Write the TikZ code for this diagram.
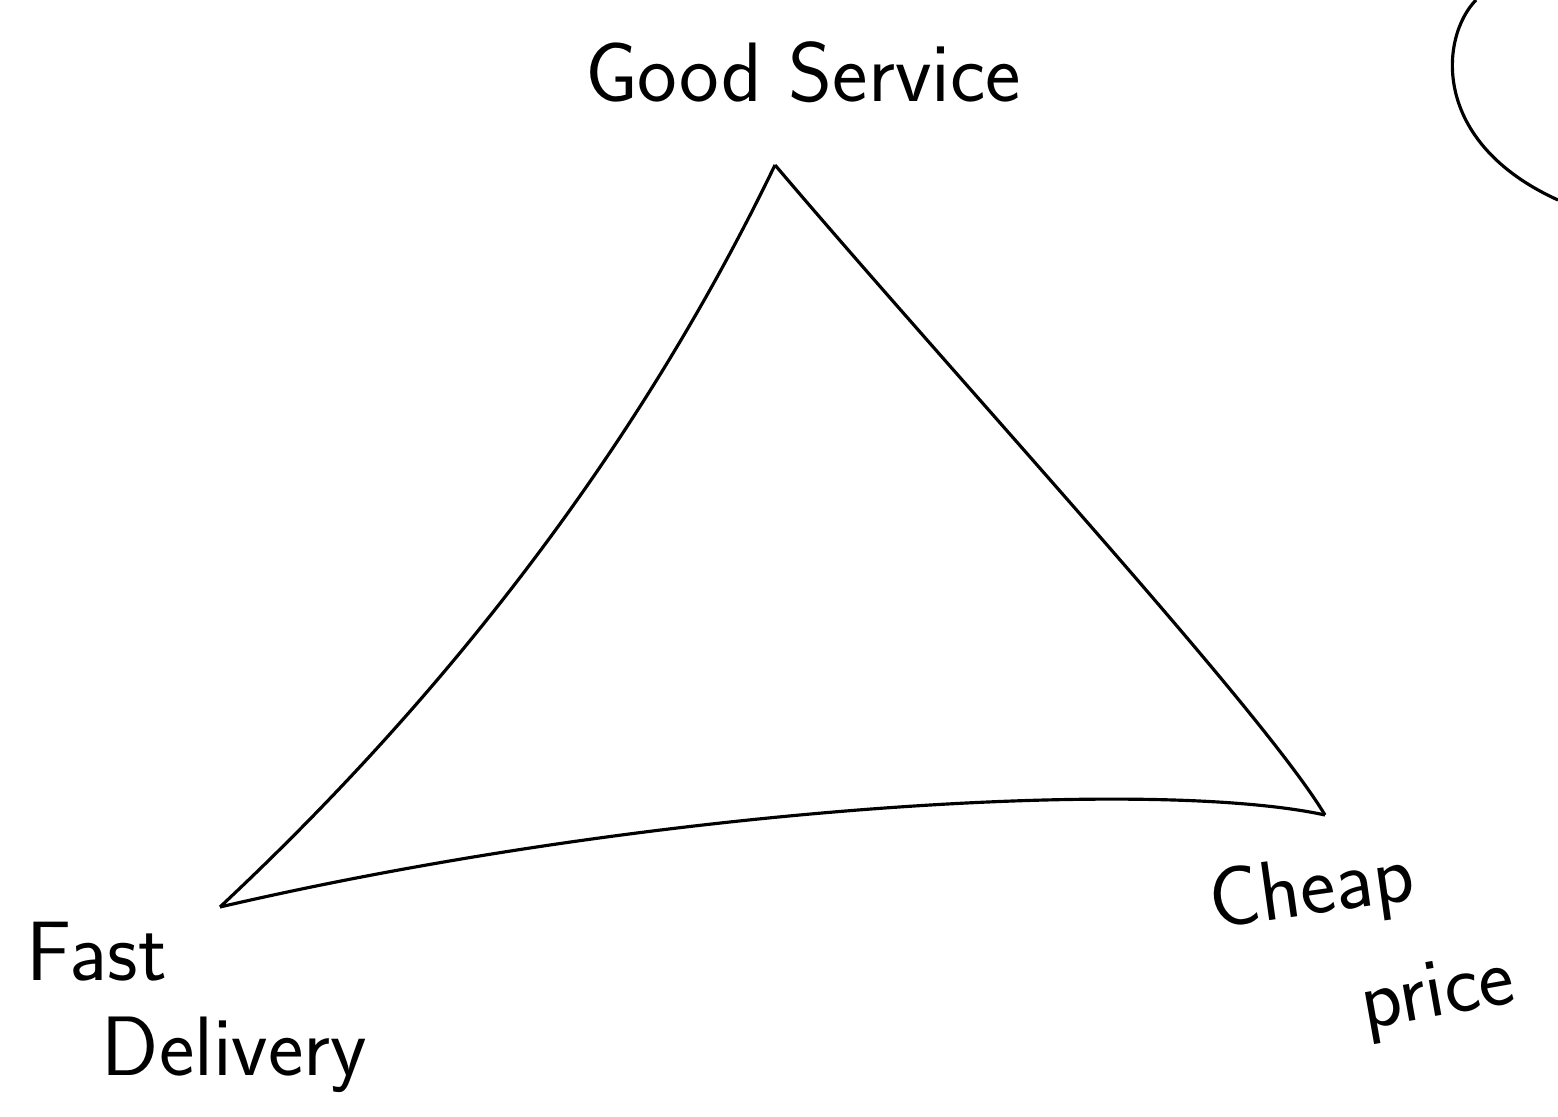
\documentclass[tikz,border=0pt]{standalone}
\usepackage{tikz}
\usepackage{xcolor}

\begin{document}
\begin{tikzpicture}[line width=0.9pt, every node/.style={font=\sffamily\fontsize{24}{27}\selectfont}]
		\useasboundingbox (0,0) rectangle (15.58,11.17);
		\coordinate (a) at (7.75,9.52);
		\coordinate (b) at (2.20,2.10);
		\coordinate (c) at (13.25,3.02);
		\node [align=center] (1) at (8.03,10.45) {Good Service};
		\node [align=left] (2) at (1.97,1.10) {Fast\\\hspace{0.75cm}Delivery};
		\node [rotate=8, inner sep=0pt] (3) at (13.12,2.24) {Cheap};
		\node [rotate=10, inner sep=0pt] (4) at (14.38,1.20) {price};
		\draw [-] (a) .. controls (6.40,6.72) and (4.49,4.24) .. (b);
		\draw [-] (a) .. controls (9.55,7.40) and (12.60,4.10) .. (c);
		\draw [-] (b) .. controls (6.50,3.10) and (11.50,3.40) .. (c);
		\draw [-] (14.76,11.17) .. controls (14.40,10.80) and (14.30,9.75) .. (15.58,9.17);
	\end{tikzpicture}
\end{document}
